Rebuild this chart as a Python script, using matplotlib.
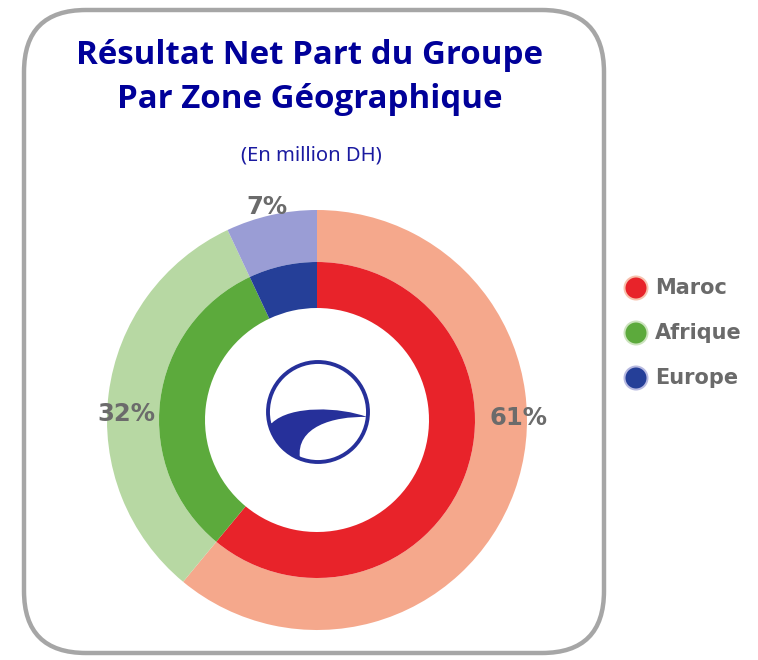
import numpy as np
import matplotlib
matplotlib.use("Agg")
import matplotlib.pyplot as plt
from matplotlib.patches import FancyBboxPatch, Circle, PathPatch
from matplotlib.path import Path

# ---- data ----
zones = ["Maroc", "Afrique", "Europe"]
shares = [61, 32, 7]
labels = ["61%", "32%", "7%"]
inner_colors = ["#E8232A", "#5CAA3C", "#253F98"]
outer_colors = ["#F5A88C", "#B7D8A3", "#9A9DD5"]

title_lines = ["Résultat Net Part du Groupe", "Par Zone Géographique"]
subtitle = "(En million DH)"

W, H = 758, 660
fig = plt.figure(figsize=(W / 100, H / 100), dpi=100)
fig.patch.set_facecolor("white")

# overlay axes in pixel coordinates
bg = fig.add_axes([0, 0, 1, 1])
bg.set_xlim(0, W)
bg.set_ylim(H, 0)
bg.axis("off")

box = FancyBboxPatch((24, 10), 580, 643,
                     boxstyle="round,pad=0,rounding_size=62",
                     fc="white", ec="#A6A6A6", lw=3.2, zorder=0)
bg.add_patch(box)

bg.text(310, 55, title_lines[0], ha="center", va="center", fontsize=23.8,
        fontweight="bold", color="#000099", family="Open Sans")
bg.text(310, 99, title_lines[1], ha="center", va="center", fontsize=23.8,
        fontweight="bold", color="#000099", family="Open Sans")
bg.text(311, 155, subtitle, ha="center", va="center", fontsize=14.5,
        color="#1A1AA0", family="Noto Sans")

# legend
for i, (z, c) in enumerate(zip(zones, inner_colors)):
    y = 288 + 45 * i
    bg.add_patch(Circle((636, y), 12.5, fc=outer_colors[i], ec="none", alpha=0.7, zorder=2))
    bg.add_patch(Circle((636, y), 10.5, fc=c, ec="none", zorder=3))
    bg.text(655, y, z, ha="left", va="center", fontsize=15, fontweight="bold",
            color="#6A6A6A", family="DejaVu Sans")

# donut axes: center (317,420), outer radius 210 px
cx, cy, R = 317, 420, 210
ax = fig.add_axes([(cx - R) / W, (H - cy - R) / H, 2 * R / W, 2 * R / H])
ax.set_xlim(-1, 1)
ax.set_ylim(-1, 1)
ax.set_aspect("equal")
ax.axis("off")

outer_w = 52 / R
inner_r = 158 / R
inner_w = 46 / R

ax.pie(shares, radius=1.0, colors=outer_colors, startangle=90, counterclock=False,
       wedgeprops=dict(width=outer_w, edgecolor="none"))
ax.pie(shares, radius=inner_r, colors=inner_colors, startangle=90, counterclock=False,
       wedgeprops=dict(width=inner_w, edgecolor="none"))
ax.set_xlim(-1, 1)
ax.set_ylim(-1, 1)

lab_kw = dict(ha="center", va="center", fontsize=17.5, fontweight="bold",
              color="#6B6B6B", family="DejaVu Sans")
ax.text(0.96, 0.01, labels[0], **lab_kw)
ax.text(-0.91, 0.03, labels[1], **lab_kw)
mid = 90 - 360 * (shares[0] + shares[1] + shares[2] / 2) / 100
ax.text(1.10 * np.cos(np.radians(mid)), 1.02 * np.sin(np.radians(mid)) + 0.02,
        labels[2], **lab_kw)

# logo in the centre
lx, ly, lr = 318, 412, 50
logo_col = "#26309A"
bg.add_patch(Circle((lx, ly), lr, fc="none", ec=logo_col, lw=2.8, zorder=5))
# swoosh (unit coords, y up)
x_end, y_end = -0.36, -0.93
x_st, y_st = -0.92, -0.22
a0 = np.degrees(np.arctan2(y_end, x_end))
a1 = np.degrees(np.arctan2(y_st, x_st))
arc = np.linspace(a0, a1 + (-360 if a1 > a0 else 0), 20)
arc_pts = [(np.cos(np.radians(t)) * 0.99, np.sin(np.radians(t)) * 0.99) for t in arc]
verts = [(x_st, y_st), (-0.55, 0.14), (0.45, 0.10), (0.98, -0.10),
         (0.30, -0.08), (-0.45, -0.30), (x_end, y_end)] + arc_pts[1:]
codes = [Path.MOVETO, Path.CURVE4, Path.CURVE4, Path.CURVE4,
         Path.CURVE4, Path.CURVE4, Path.CURVE4] + [Path.LINETO] * (len(arc_pts) - 1)
verts = [(lx + x * lr, ly - y * lr) for x, y in verts] + [(0, 0)]
codes = codes + [Path.CLOSEPOLY]
bg.add_patch(PathPatch(Path(verts, codes), fc=logo_col, ec="none", zorder=5))

fig.savefig("out.png", dpi=100)
